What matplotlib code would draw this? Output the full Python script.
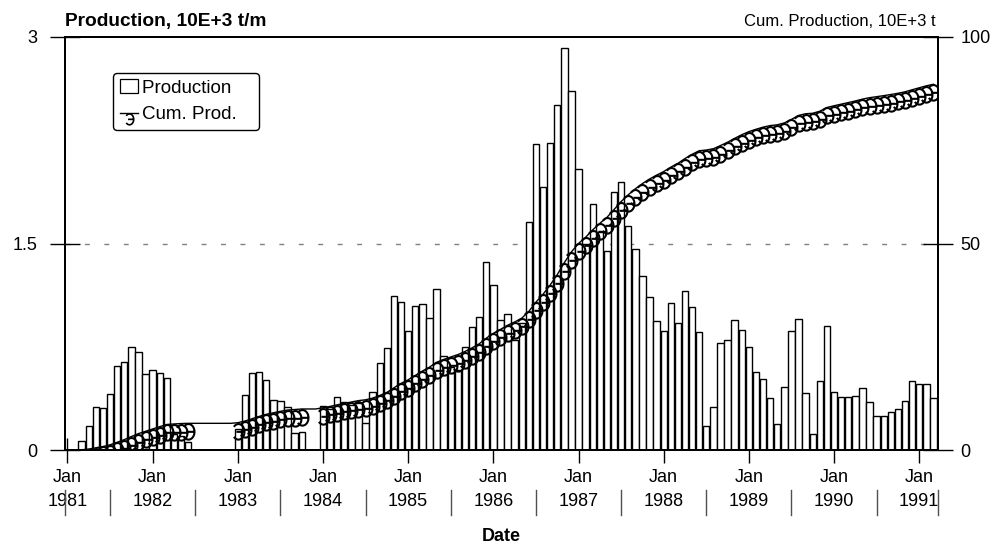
import numpy as np
import matplotlib
matplotlib.use('Agg')
import matplotlib.pyplot as plt
from matplotlib.path import Path
from matplotlib.transforms import Affine2D, blended_transform_factory
from matplotlib.lines import Line2D
from matplotlib.patches import Rectangle

plt.rcParams['font.family'] = ['Liberation Sans', 'DejaVu Sans']

nan = np.nan

# monthly production, 10E+3 t/m (nan = well not producing)
prod_1981 = [nan, nan, 0.065, 0.174, 0.312, 0.303, 0.41, 0.61, 0.64, 0.746, 0.714, 0.554]
prod_1982 = [0.579, 0.557, 0.525, 0.12, 0.10, 0.056, nan, nan, nan, nan, nan, nan]
prod_1983 = [0.15, 0.40, 0.557, 0.567, 0.508, 0.363, 0.358, 0.31, 0.126, 0.133, nan, nan]
prod_1984 = [0.32, 0.30, 0.387, 0.35, 0.33, 0.34, 0.194, 0.419, 0.634, 0.739, 1.119, 1.073]
prod_1985 = [0.864, 1.048, 1.058, 0.961, 1.169, 0.683, 0.60, 0.58, 0.745, 0.89, 0.968, 1.363]
prod_1986 = [1.196, 0.944, 0.988, 0.80, 0.92, 1.659, 2.22, 1.913, 2.23, 2.506, 2.918, 2.608]
prod_1987 = [2.039, 1.5, 1.788, 1.58, 1.448, 1.875, 1.949, 1.627, 1.457, 1.265, 1.109, 0.94]
prod_1988 = [0.868, 1.065, 0.926, 1.152, 1.036, 0.858, 0.176, 0.311, 0.775, 0.797, 0.948, 0.875]
prod_1989 = [0.746, 0.569, 0.518, 0.378, 0.188, 0.457, 0.862, 0.949, 0.411, 0.117, 0.50, 0.899]
prod_1990 = [0.419, 0.382, 0.382, 0.395, 0.447, 0.346, 0.246, 0.246, 0.275, 0.297, 0.356, 0.498]
prod_1991 = [0.477, 0.477, 0.377]

years = list(range(1981, 1992))
year_labels = ['Jan\n%d' % y for y in years]

production = np.array(prod_1981 + prod_1982 + prod_1983 + prod_1984 + prod_1985 + prod_1986
                      + prod_1987 + prod_1988 + prod_1989 + prod_1990 + prod_1991)
months = np.arange(len(production))
has_data = ~np.isnan(production)
cum_prod = np.cumsum(np.nan_to_num(production))
first = np.argmax(has_data)

# reversed-epsilon glyph, hanging below the point it marks
arc = Path.arc(-140, 140).transformed(Affine2D().scale(4.3, 5.6).translate(0, -6.0))
stroke = Path([[-1.5, -6.0], [4.3, -6.0]], [Path.MOVETO, Path.LINETO])
glyph = Path.make_compound_path(arc, stroke)
glyph_ms = 2 * np.abs(glyph.vertices).max()

fig = plt.figure(figsize=(9.97, 5.56), dpi=100)
ax = fig.add_axes([0.0652, 0.1906, 0.8753, 0.7429])

ax.bar(months, production, width=0.9, color='white', edgecolor='black', linewidth=1, zorder=2)
ax.axhline(1.5, color='#808080', linewidth=1, linestyle=(0, (3.5, 10.5)), zorder=1)

ax.set_xlim(-0.35, 122.6)
ax.set_ylim(0, 3)
ax.set_xticks(months[::12])
ax.set_xticklabels(year_labels, linespacing=1.5)
ax.set_yticks([0, 1.5, 3])
ax.set_yticklabels(['0', '1.5', '3'])
ax.tick_params(axis='x', direction='inout', length=18, width=1, pad=5, labelsize=13)
ax.tick_params(axis='y', direction='inout', length=22, width=1, pad=9, labelsize=13)

ax2 = ax.twinx()
ax2.plot(months[first:], cum_prod[first:], color='black', linewidth=1)
ax2.plot(months[has_data], cum_prod[has_data], linestyle='none', marker=glyph, markersize=glyph_ms,
         markerfacecolor='none', markeredgecolor='black', markeredgewidth=1.5)
ax2.set_ylim(0, 100)
ax2.set_yticks([0, 50, 100])
ax2.tick_params(axis='y', direction='inout', length=22, width=1, pad=5.5, labelsize=13)

for a in (ax, ax2):
    for s in a.spines.values():
        s.set_linewidth(1.4)

# separators between the year labels
trans = blended_transform_factory(ax.transData, ax.transAxes)
sep_x = list(months[6::12]) + list(ax.get_xlim())
for x in sep_x:
    ax.plot([x, x], [-0.097, -0.157], transform=trans, color='#505050', linewidth=1, clip_on=False)

handles = [Rectangle((0, 0), 1, 1, facecolor='white', edgecolor='black', linewidth=0.9),
           Line2D([], [], color='black', linewidth=1, marker=glyph, markersize=glyph_ms * 0.7,
                  markerfacecolor='none', markeredgecolor='black', markeredgewidth=1.2)]
leg = ax2.legend(handles, ['Production   ', 'Cum. Prod.   '], loc='upper left',
                 bbox_to_anchor=(0.055, 0.913), borderaxespad=0, fontsize=13.5, frameon=True,
                 fancybox=True, edgecolor='black', framealpha=1, handlelength=1.0,
                 handletextpad=0.2, labelspacing=0.5, borderpad=0.35)
leg.get_frame().set_linewidth(1)

fig.text(65 / 997, 1 - 26 / 556, 'Production, 10E+3 t/m', fontweight='bold', fontsize=13.8,
         ha='left', va='baseline')
fig.text(936 / 997, 1 - 26 / 556, 'Cum. Production, 10E+3 t', fontsize=12, ha='right', va='baseline')
fig.text(501 / 997, 1 - 541 / 556, 'Date', fontweight='bold', fontsize=13, ha='center', va='baseline')

fig.savefig('out.png', dpi=100)
